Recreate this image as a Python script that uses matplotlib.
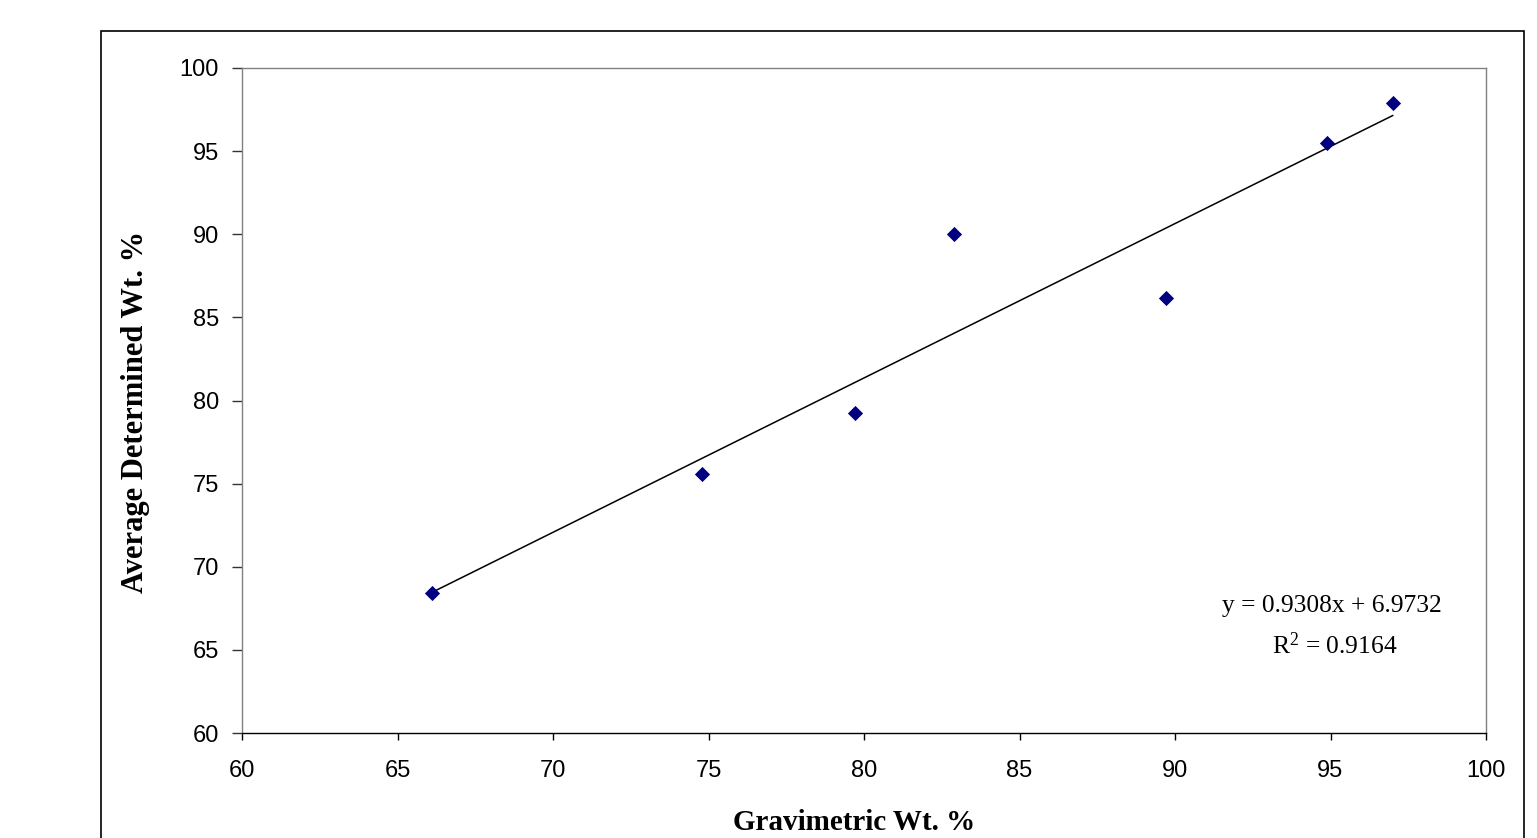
import numpy as np
import matplotlib
matplotlib.use("Agg")
import matplotlib.pyplot as plt
from matplotlib.patches import Rectangle

gravimetric = [66.1, 74.8, 79.7, 82.9, 89.7, 94.9, 97.0]
determined = [68.4, 75.6, 79.25, 90.0, 86.15, 95.5, 97.9]
x_ticks = [60, 65, 70, 75, 80, 85, 90, 95, 100]
y_ticks = [60, 65, 70, 75, 80, 85, 90, 95, 100]
equation_text = "y = 0.9308x + 6.9732"
r2_text = "R$^2$ = 0.9164"
x_label = "Gravimetric Wt. %"
y_label = "Average Determined Wt. %"

plt.rcParams["mathtext.fontset"] = "custom"
plt.rcParams["mathtext.rm"] = "Liberation Serif"
plt.rcParams["mathtext.it"] = "Liberation Serif:italic"
plt.rcParams["mathtext.bf"] = "Liberation Serif:bold"

W, H = 1537, 838
fig = plt.figure(figsize=(W/100, H/100), dpi=100)
fig.patch.set_facecolor("white")

# outer chart frame
fig.patches.append(Rectangle((101/W, -0.05), (1524-101)/W, 1.05 - 31/H,
                             transform=fig.transFigure, fill=False,
                             edgecolor="black", linewidth=1.2))

ax = fig.add_axes([242/W, 1-733/H, (1486-242)/W, (733-68)/H])
ax.set_xlim(60, 100)
ax.set_ylim(60, 100)
ax.set_xticks(x_ticks)
ax.set_yticks(y_ticks)

serif = ["Liberation Serif", "DejaVu Serif"]
sans = ["Liberation Sans", "DejaVu Sans"]

for lab in ax.get_xticklabels() + ax.get_yticklabels():
    lab.set_fontfamily(sans)
    lab.set_fontsize(17)
ax.tick_params(axis="x", direction="out", length=5, width=1, color="black", pad=14.5)
ax.tick_params(axis="y", direction="out", length=7.2, width=1, color="#333333", pad=9.5)

ax.spines["bottom"].set_color("black")
ax.spines["bottom"].set_linewidth(1)
for s in ["left", "top", "right"]:
    ax.spines[s].set_color("#808080")
    ax.spines[s].set_linewidth(1)

x = np.array(gravimetric)
y = np.array(determined)
m, b = np.polyfit(x, y, 1)
xl = np.array([x.min(), x.max()])
ax.plot(xl, m*xl + b, color="black", linewidth=1.1)
ax.scatter(x, y, marker="D", s=60, color="#000080", zorder=3, linewidths=0)

ax.text(95.05, 67.28, equation_text, fontfamily=serif, fontsize=18.4, ha="center", va="baseline")
ax.text(95.15, 64.75, r2_text, fontfamily=serif, fontsize=18.4, ha="center", va="baseline")

fig.text(854/W, 1-830/H, x_label, fontfamily=serif, fontsize=21, fontweight="bold",
         ha="center", va="baseline")
fig.text(143/W, 1-412/H, y_label, fontfamily=serif, fontsize=22, fontweight="bold",
         ha="center", va="baseline", rotation=90, rotation_mode="anchor")

fig.savefig("out.png", dpi=100)
